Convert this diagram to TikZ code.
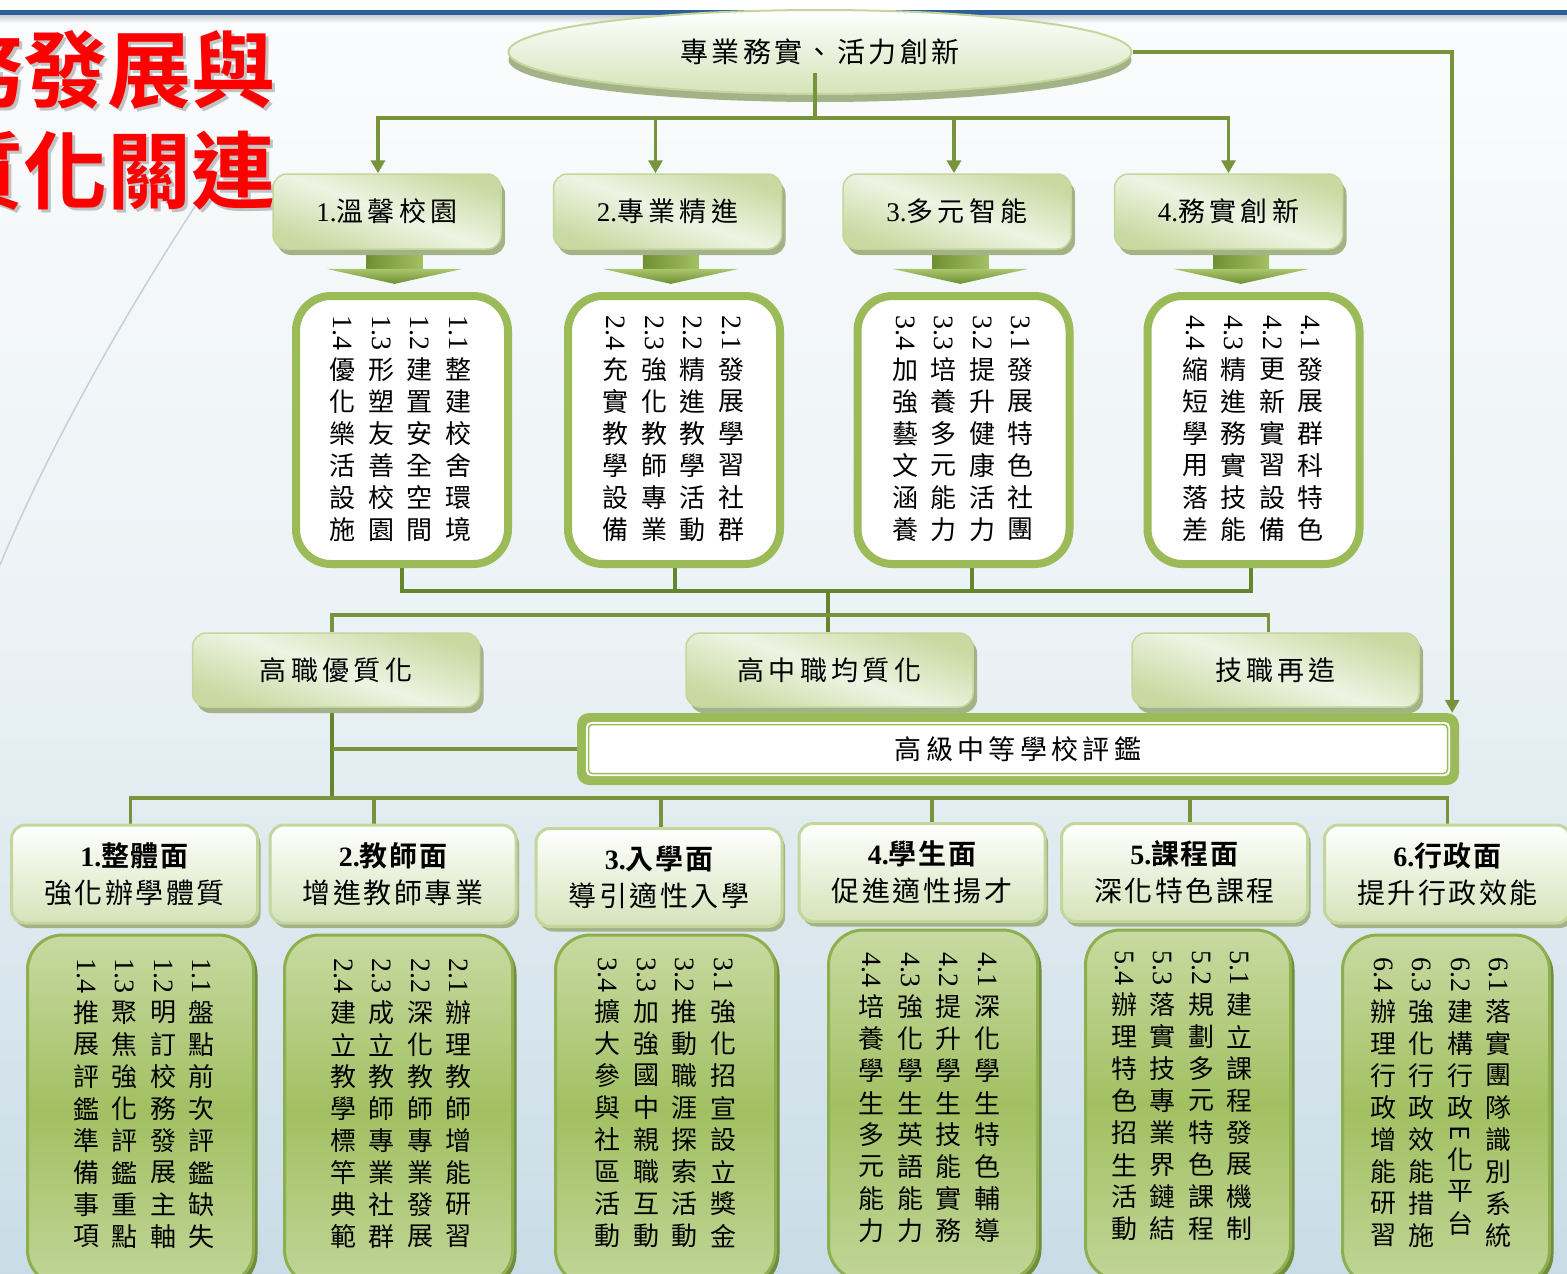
\documentclass[tikz,border=0pt]{standalone}
\usepackage{fontspec}
\usepackage{graphicx}
\setmainfont{Liberation Serif}
\newfontfamily\cjk{Noto Sans CJK TC}
\newfontfamily\cjkb{Noto Sans CJK TC Bold}
\usetikzlibrary{arrows.meta,shadows,shapes.geometric,calc}
\pgfdeclarelayer{bg}
\pgfsetlayers{bg,main}
\definecolor{lnA}{HTML}{77933C}
\definecolor{lnB}{HTML}{66842E}
\definecolor{gborder}{HTML}{9BBB59}
\definecolor{lgB}{HTML}{C3D69B}
\definecolor{bgtop}{HTML}{FBFCFD}
\definecolor{bgmid}{HTML}{EBF2F5}
\definecolor{bgbot}{HTML}{C9DCE6}
\definecolor{blueline}{HTML}{2F5F9A}
\definecolor{shadA}{HTML}{A3B287}
\definecolor{shadG}{HTML}{708C3C}
\definecolor{boxA}{HTML}{C8D9A1}
\definecolor{boxB}{HTML}{EEF4E3}
\definecolor{hdrB}{HTML}{D5E3B9}
\definecolor{gfA}{HTML}{C8DAA2}
\definecolor{gfB}{HTML}{A2C062}
\definecolor{gfC}{HTML}{C0D597}
\definecolor{gfline}{HTML}{8DAF4E}
\definecolor{titlered}{HTML}{FF0000}
\definecolor{curvec}{HTML}{C5D0D8}
\definecolor{shaftA}{HTML}{6F9032}
\definecolor{shaftB}{HTML}{A3C063}
\definecolor{headA}{HTML}{A9C56E}
\definecolor{headB}{HTML}{6E8F31}

% vertical text columns
\newlength\cw \setlength\cw{30pt}
\newlength\cgap \setlength\cgap{8.5pt}
\def\rE{E}
\newcommand\numcell[1]{\hbox to\cw{\hss\vbox to 42pt{\vss\hbox{\rotatebox[origin=c]{-90}{\rmfamily\fontsize{28}{28}\selectfont #1}}\vss}\hss}}
\newcommand\chcell[1]{\hbox to\cw{\hss\vbox to 32pt{\vss\hbox{#1}\vss}\hss}}
\newcommand\Ecell{\hbox to\cw{\hss\vbox to 20pt{\vss\hbox{\rotatebox[origin=c]{-90}{E}}\vss}\hss}}
\def\chloop#1{\ifx#1\relax\else\ifx#1\rE\Ecell\else\chcell{#1}\fi\expandafter\chloop\fi}
\newcommand\vcol[2]{\vtop{\offinterlineskip\numcell{#1}\chloop#2\relax}}
\newcommand\vblock[8]{\hbox{\cjk\fontsize{26}{26}\selectfont\vcol{#7}{#8}\hskip\cgap\vcol{#5}{#6}\hskip\cgap\vcol{#3}{#4}\hskip\cgap\vcol{#1}{#2}}}
\newcommand\hdr[3]{{\cjkb\addfontfeature{LetterSpace=6}{\rmfamily\bfseries #1}#2}\\{\cjk\addfontfeature{LetterSpace=9}#3}}

\tikzset{
  lnA/.style={draw=lnA, line width=3.5pt},
  lnB/.style={draw=lnB, line width=4pt},
  ttl/.style={anchor=east, inner sep=0pt, font=\cjkb\fontsize{84}{90}\selectfont},
  topell/.style={ellipse, draw=lgB, line width=2pt, top color=white, bottom color=hdrB,
    minimum width=623pt, minimum height=84pt, inner sep=0pt,
    drop shadow={shadow xshift=0pt, shadow yshift=-8pt, fill=shadA, opacity=1},
    font=\cjk\fontsize{28}{30}\selectfont\addfontfeature{LetterSpace=12}},
  tboxs/.style={rectangle, rounded corners=14pt, draw=lgB, line width=1.5pt,
    top color=boxA, bottom color=boxA, middle color=boxB, shading angle=-20,
    minimum width=228pt, minimum height=75pt, inner sep=0pt,
    drop shadow={shadow xshift=4pt, shadow yshift=-6pt, fill=shadA, opacity=1},
    font=\cjk\fontsize{27}{30}\selectfont\addfontfeature{LetterSpace=16}},
  hdrs/.style={rectangle, rounded corners=14pt, draw=lgB, line width=3pt,
    top color=white, bottom color=hdrB, minimum width=246pt, minimum height=98pt,
    inner sep=0pt, align=center,
    drop shadow={shadow xshift=3pt, shadow yshift=-5pt, fill=shadA, opacity=1},
    font=\fontsize{28}{37}\selectfont},
  vboxs/.style={rectangle, rounded corners=35pt, draw=gborder, line width=8pt,
    fill=white, minimum width=212pt, minimum height=268pt},
  gboxs/.style={rectangle, rounded corners=35pt, draw=gfline, line width=3pt,
    top color=gfA, bottom color=gfC, middle color=gfB, minimum height=350pt,
    drop shadow={shadow xshift=4pt, shadow yshift=-4pt, fill=shadG, opacity=1}},
  vtext/.style={anchor=north, inner sep=0pt},
  evalbox/.style={rectangle, fill=gborder, rounded corners=12pt, minimum width=882pt,
    minimum height=72pt, inner sep=0pt,
    font=\cjk\fontsize{27}{30}\selectfont\addfontfeature{LetterSpace=16},
    path picture={
      \fill[white, rounded corners=5pt]
        ([xshift=9pt,yshift=9pt]path picture bounding box.south west) rectangle
        ([xshift=-9pt,yshift=-9pt]path picture bounding box.north east);
      \draw[gborder, line width=1.5pt, rounded corners=4pt]
        ([xshift=11.5pt,yshift=11.5pt]path picture bounding box.south west) rectangle
        ([xshift=-11.5pt,yshift=-11.5pt]path picture bounding box.north east);
    }},
  arrowtip/.style={-{Triangle[length=13pt,width=14pt]}}
}

\begin{document}
\begin{tikzpicture}[x=1pt,y=-1pt]
\useasboundingbox (0,0) rectangle (1567,1274);
\clip (0,0) rectangle (1567,1274);

\begin{pgfonlayer}{bg}
\shade[top color=bgtop, bottom color=bgbot, middle color=bgmid] (0,0) rectangle (1567,1274);
\fill[white] (0,0) rectangle (1567,10);
\fill[blueline] (0,10) rectangle (1567,15);
\shade[top color=black!20, bottom color=bgtop] (0,15) rectangle (1567,23);
\draw[curvec, line width=1.5pt] (233,150) .. controls (160,255) and (60,420) .. (0,565);
\end{pgfonlayer}

% title
\node[ttl, text=black!45, opacity=0.5] (t1s) at (279,73) {務發展與};
\node[ttl, text=titlered] (t1) at (276,70) {務發展與};
\node[ttl, text=black!45, opacity=0.5] (t2s) at (279,174) {質化關連};
\node[ttl, text=titlered] (t2) at (276,171) {質化關連};

% top ellipse
\node[topell] (top) at (820,52) {專業務實、活力創新};

% row 1 boxes
\node[tboxs] (b1) at (387,211.5) {{\rmfamily 1.}溫馨校園};
\node[tboxs] (b2) at (667.5,211.5) {{\rmfamily 2.}專業精進};
\node[tboxs] (b3) at (957,211.5) {{\rmfamily 3.}多元智能};
\node[tboxs] (b4) at (1228.5,211.5) {{\rmfamily 4.}務實創新};

% vertical text boxes row 1
\node[vboxs] (v1) at (402,430) {};
\node[vboxs] (v2) at (674,430) {};
\node[vboxs] (v3) at (963.5,430) {};
\node[vboxs] (v4) at (1253.5,430) {};
\node[vtext] (v1t) at (400.5,311.5) {\vblock{1.1}{整建校舍環境}{1.2}{建置安全空間}{1.3}{形塑友善校園}{1.4}{優化樂活設施}};
\node[vtext] (v2t) at (673.5,311.5) {\vblock{2.1}{發展學習社群}{2.2}{精進教學活動}{2.3}{強化教師專業}{2.4}{充實教學設備}};
\node[vtext] (v3t) at (963,311.5) {\vblock{3.1}{發展特色社團}{3.2}{提升健康活力}{3.3}{培養多元能力}{3.4}{加強藝文涵養}};
\node[vtext] (v4t) at (1253,311.5) {\vblock{4.1}{發展群科特色}{4.2}{更新實習設備}{4.3}{精進務實技能}{4.4}{縮短學用落差}};

% middle boxes
\node[tboxs, minimum width=287pt, minimum height=74pt] (m1) at (336,670) {高職優質化};
\node[tboxs, minimum width=287pt, minimum height=74pt] (m2) at (829.5,670) {高中職均質化};
\node[tboxs, minimum width=287pt, minimum height=74pt] (m3) at (1275.5,670) {技職再造};
\node[evalbox] (eval) at (1018,749) {高級中等學校評鑑};

% headers
\node[hdrs] (h1) at (134.5,874) {\hdr{1.}{整體面}{強化辦學體質}};
\node[hdrs] (h2) at (393,874) {\hdr{2.}{教師面}{增進教師專業}};
\node[hdrs] (h3) at (659,877.5) {\hdr{3.}{入學面}{導引適性入學}};
\node[hdrs] (h4) at (922,872.5) {\hdr{4.}{學生面}{促進適性揚才}};
\node[hdrs] (h5) at (1184.5,872.5) {\hdr{5.}{課程面}{深化特色課程}};
\node[hdrs] (h6) at (1447.5,874) {\hdr{6.}{行政面}{提升行政效能}};

% green boxes
\node[gboxs, minimum width=226pt] (g1) at (140.5,1110) {};
\node[gboxs, minimum width=228pt] (g2) at (398.5,1110) {};
\node[gboxs, minimum width=220pt] (g3) at (665.5,1110) {};
\node[gboxs, minimum width=209pt] (g4) at (933,1105) {};
\node[gboxs, minimum width=205pt] (g5) at (1188,1105) {};
\node[gboxs, minimum width=207pt] (g6) at (1446,1110) {};
\node[vtext] (g1t) at (144,954.5) {\vblock{1.1}{盤點前次評鑑缺失}{1.2}{明訂校務發展主軸}{1.3}{聚焦強化評鑑重點}{1.4}{推展評鑑準備事項}};
\node[vtext] (g2t) at (401,954.5) {\vblock{2.1}{辦理教師增能研習}{2.2}{深化教師專業發展}{2.3}{成立教師專業社群}{2.4}{建立教學標竿典範}};
\node[vtext] (g3t) at (665.5,953.5) {\vblock{3.1}{強化招宣設立獎金}{3.2}{推動職涯探索活動}{3.3}{加強國中親職互動}{3.4}{擴大參與社區活動}};
\node[vtext] (g4t) at (929.5,948.5) {\vblock{4.1}{深化學生特色輔導}{4.2}{提升學生技能實務}{4.3}{強化學生英語能力}{4.4}{培養學生多元能力}};
\node[vtext] (g5t) at (1182,946.5) {\vblock{5.1}{建立課程發展機制}{5.2}{規劃多元特色課程}{5.3}{落實技專業界鏈結}{5.4}{辦理特色招生活動}};
\node[vtext] (g6t) at (1441,953.5) {\vblock{6.1}{落實團隊識別系統}{6.2}{建構行政\rE 化平台}{6.3}{強化行政效能措施}{6.4}{辦理行政增能研習}};

% stem over the ellipse
\coordinate (tbus) at (815,118);
\draw[lnA] ([shift={(-5,21)}]top.center) -- (tbus);

\begin{pgfonlayer}{bg}
% top bus and arrows
\coordinate (a1) at ([xshift=-9pt]b1.north);
\coordinate (a2) at ([xshift=-12pt]b2.north);
\coordinate (a3) at ([xshift=-3pt]b3.north);
\coordinate (a4) at (b4.north);
\draw[lnA, line cap=rect] (a1 |- tbus) -- (a4 |- tbus);
\foreach \i in {1,...,4} \draw[lnA, arrowtip] (a\i |- tbus) -- (a\i);
% right loop
\coordinate (ea) at ([xshift=-7pt]eval.north east);
\draw[lnA, arrowtip] (top.east) -| (ea);
% block arrows
\foreach \i in {1,2,3,4}{
  \coordinate (ba\i) at ($(b\i.south)!0.5!(v\i.north)$);
  \shade[left color=shaftA, right color=shaftB] ([shift={(-28,-23)}]ba\i) rectangle ([shift={(28,1)}]ba\i);
  \shade[top color=headA, bottom color=headB] ([shift={(-68,-2)}]ba\i) -- ([shift={(68,-2)}]ba\i) -- ([shift={(0,13)}]ba\i) -- cycle;
}
% below vertical boxes
\coordinate (vbus) at (828,591);
\coordinate (c1) at (v1.south);
\coordinate (c2) at ([xshift=1pt]v2.south);
\coordinate (c3) at ([xshift=8pt]v3.south);
\coordinate (c4) at ([xshift=-3pt]v4.south);
\draw[lnB] (c1) -- (c1 |- vbus) -- (c4 |- vbus) -- (c4);
\draw[lnB] (c2) -- (c2 |- vbus);
\draw[lnB] (c3) -- (c3 |- vbus);
\coordinate (mbus) at (828,615);
\draw[lnB] (vbus) -- (vbus |- m2.north);
\coordinate (d1) at ([xshift=-4pt]m1.north);
\coordinate (d3) at ([xshift=-7pt]m3.north);
\draw[lnA] (d1) -- (d1 |- mbus) -- (d3 |- mbus) -- (d3);
% lower
\coordinate (hbus) at (790,798);
\coordinate (s1) at ([xshift=-4pt]m1.south);
\draw[lnB] (s1) -- (s1 |- hbus);
\draw[lnA] (eval.west) -- (eval.west -| s1);
\coordinate (e1) at ([xshift=-4pt]h1.north);
\coordinate (e2) at ([xshift=-19pt]h2.north);
\coordinate (e3) at ([xshift=2pt]h3.north);
\coordinate (e4) at ([xshift=10pt]h4.north);
\coordinate (e5) at ([xshift=5.5pt]h5.north);
\coordinate (e6) at (h6.north);
\draw[lnA, line cap=rect] (e1 |- hbus) -- (e6 |- hbus);
\foreach \i in {1,...,6} \draw[lnA] (e\i |- hbus) -- (e\i);
\end{pgfonlayer}
\end{tikzpicture}
\end{document}
